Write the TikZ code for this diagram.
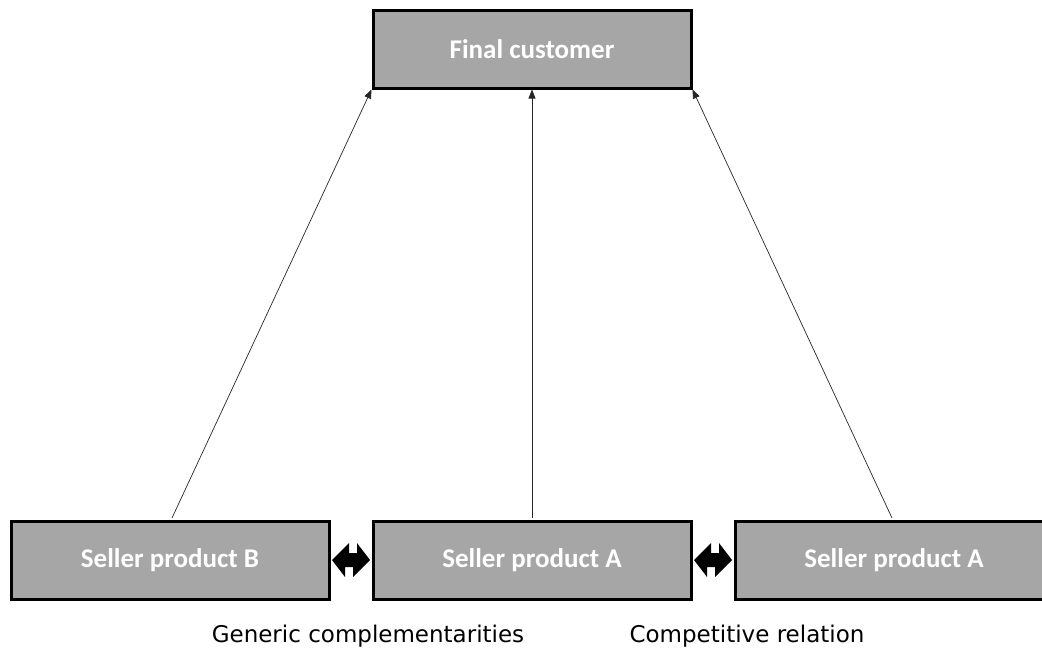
\documentclass[tikz,border=0pt]{standalone}
\usepackage{fontspec}
\setmainfont{DejaVu Sans}
\newfontfamily\boxfont{Carlito}
\usetikzlibrary{calc,arrows.meta}
\begin{document}
\begin{tikzpicture}[x=1pt,y=-1pt,
  actor/.style={draw=black,line width=3pt,fill=boxgray,minimum width=318pt,minimum height=78pt,
    inner sep=0pt,font=\boxfont\bfseries\fontsize{27}{30}\selectfont,text=white},
  link/.style={draw=black!85,line width=0.7pt,-{Triangle[length=9pt,width=7pt]}},
  relation/.style={font=\fontsize{23}{26}\selectfont,anchor=center}]
\definecolor{boxgray}{HTML}{A6A6A6}
\useasboundingbox (0,0) rectangle (1042,653);
% buyer on top, three sellers along the bottom
\node[actor] (fc) at (532,49) {Final customer};
\node[actor] (sb) at (170,560) {Seller product B};
\node[actor] (sa) at (532,560) {Seller product A};
\node[actor] (sc) at (894,560) {Seller product A};
% each seller supplies the final customer
\draw[link] (sb.north) ++(2,-1.5) -- (fc.south west);
\draw[link] (sa.north) ++(0,-1.5) -- (fc.south);
\draw[link] (sc.north) ++(-2,-1.5) -- (fc.south east);
% block double arrows between neighbouring sellers
\foreach \l/\r in {sb/sa,sa/sc}{
  \fill[black] ($(\l.east)+(1.5,0)$) -- ++(17,-17) -- ++(0,10) -- ++(8,0) -- ++(0,-10)
    -- ($(\r.west)+(-1.5,0)$) -- ++(-17,17) -- ++(0,-10) -- ++(-8,0) -- ++(0,10) -- cycle;
}
\node[relation] (gc) at (368,636) {Generic complementarities};
\node[relation] (cr) at (747,636) {Competitive relation};
\end{tikzpicture}
\end{document}
